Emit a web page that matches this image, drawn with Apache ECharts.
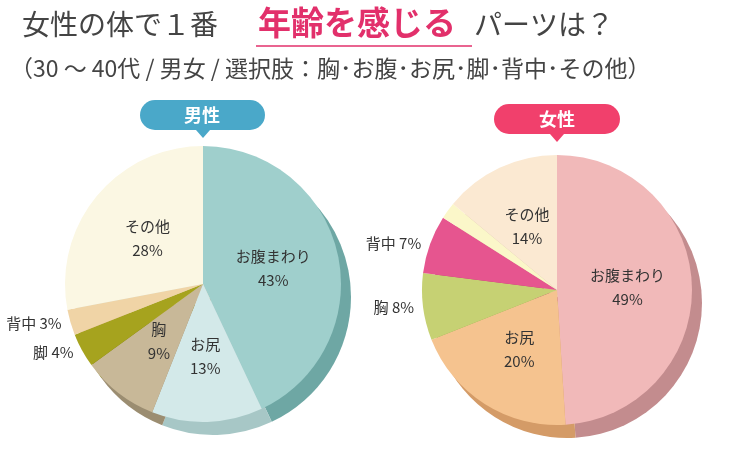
<!DOCTYPE html><html><head><meta charset="utf-8">
<script src="https://cdn.jsdelivr.net/npm/echarts@6/dist/echarts.min.js"></script>
<style>html,body{margin:0;background:#fff}#c{width:750px;height:450px}</style></head><body><div id="c"></div>
<script>
const menCats=['お腹まわり','お尻','胸','脚','背中','その他'];
const menVals=[43,13,9,4,3,28];
const womenCats=['お腹まわり','お尻','胸','背中','',"その他"];
const womenVals=[49,20,8,7,2,14];
const menColors=['#9fcfcc','#d3e9e9','#c8b898','#a6a31e','#f0d4a6','#fbf7e3'];
const menDark=['#6ea7a4','#a7c7c6','#9b8d71','#7b7912','#c9aa7b','#d9d4bb'];
const womenColors=['#f1b9b9','#f5c38f','#c6d173','#e6558f','#fbf7c9','#fbe9d2'];
const womenDark=['#c38c8e','#d49b67','#9aa650','#b83b6b','#d8d4a2','#d8c3a9'];
const small={'脚':1,'背中':1};
function items(cats,vals,cols,lab){return cats.map((n,i)=>{const o={name:n,value:vals[i],itemStyle:{color:cols[i]}};
 if(!lab){o.label={show:false};return o;}
 if(n===''){o.label={show:false};}
 else if(small[n]||(n==='胸'&&cats===womenCats)){o.label={position:'outside',formatter:'{b} {c}%',overflow:'none',width:80};o.labelLine={show:false,length:4,length2:0};}
 return o;});}
function pie(c,r,d,z,lab){return {type:'pie',center:c,radius:r,startAngle:90,clockwise:true,silent:true,z:z,
 label:{show:lab,position:'inside',formatter:'{b}\n\n{c}%',color:'#333',fontSize:15,lineHeight:12,fontFamily:'Noto Sans CJK JP',overflow:'none'},
 labelLine:{show:false},itemStyle:{borderWidth:0},data:d,animation:false};}
const ch=echarts.init(document.getElementById('c'));
ch.setOption({
 series:[pie([213,297],138,items(menCats,menVals,menDark,false),1,false),
  pie([203,284],138,items(menCats,menVals,menColors,true),2,true),
  pie([567,303],135,items(womenCats,womenVals,womenDark,false),1,false),
  pie([557,290],135,items(womenCats,womenVals,womenColors,true),2,true)],
 graphic:[
  {type:'text',left:22,top:10,style:{text:'女性の体で１番',font:'28px "Noto Sans CJK JP"',fill:'#444'}},
  {type:'text',left:258,top:6,style:{text:'年齢を感じる',font:'bold 33px "Noto Sans CJK JP"',fill:'#e2306b'}},
  {type:'line',shape:{x1:256,y1:46,x2:472,y2:46},style:{stroke:'#e2306b',lineWidth:1.5}},
  {type:'text',left:474,top:10,style:{text:'パーツは？',font:'28px "Noto Sans CJK JP"',fill:'#444'}},
  {type:'text',left:10,top:57,style:{text:'（30 ～ 40代 / 男女 / 選択肢：胸･お腹･お尻･脚･背中･その他）',font:'23px "Noto Sans CJK JP"',fill:'#444'}},
  {type:'rect',shape:{x:140,y:100,width:125,height:30,r:15},style:{fill:'#4aa8c9'}},
  {type:'polygon',shape:{points:[[196,130],[210,130],[203,138]]},style:{fill:'#4aa8c9'}},
  {type:'text',x:202,y:115,style:{text:'男性',align:'center',verticalAlign:'middle',font:'bold 18px "Noto Sans CJK JP"',fill:'#fff'}},
  {type:'rect',shape:{x:494,y:104,width:126,height:30,r:15},style:{fill:'#f1406c'}},
  {type:'polygon',shape:{points:[[550,134],[564,134],[557,142]]},style:{fill:'#f1406c'}},
  {type:'text',x:557,y:119,style:{text:'女性',align:'center',verticalAlign:'middle',font:'bold 18px "Noto Sans CJK JP"',fill:'#fff'}}
 ]});
</script></body></html>
